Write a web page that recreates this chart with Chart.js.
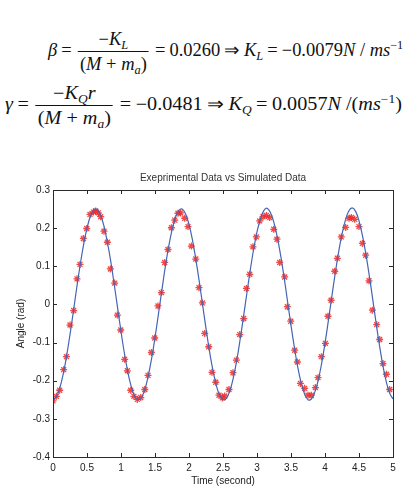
<!DOCTYPE html>
<html>
<head>
<meta charset="utf-8">
<script src="https://cdn.jsdelivr.net/npm/chart.js@4.4.1/dist/chart.umd.min.js"></script>
<style>
  html, body { margin: 0; padding: 0; background: #fff; }
  body { width: 405px; height: 487px; position: relative; overflow: hidden; }
  .eq { position: absolute; white-space: nowrap; font-family: "Liberation Serif", "Times New Roman", serif;
        font-size: 18px; line-height: 1; color: #111; transform-origin: 0 50%; }
  .eq i { font-style: italic; }
  .eq sub { font-size: 12px; vertical-align: -4px; line-height: 0; }
  .eq sup { font-size: 12px; vertical-align: 7px; line-height: 0; }
  .op { margin: 0 4px; }
  .frac { display: inline-block; vertical-align: middle; text-align: center; margin: 0 2px; }
  .frac > span { display: block; }
  .frac .num { padding: 0 2px 3px; border-bottom: 1px solid #111; }
  .frac .den { padding: 3px 2px 0; }
  #chart { position: absolute; left: 0; top: 160px; }
</style>
</head>
<body>
<div class="eq" id="eq1" data-left="48" data-width="355" style="top:30px">
  <i>β</i><span class="op">=</span><span class="frac"><span class="num">−<i>K</i><sub><i>L</i></sub></span><span class="den">(<i>M</i> + <i>m</i><sub><i>a</i></sub>)</span></span><span class="op">=</span>0.0260<span class="op">⇒</span><i>K</i><sub><i>L</i></sub><span class="op">=</span>−0.0079<i>N</i>&nbsp;/&nbsp;<i>ms</i><sup>−1</sup>
</div>
<div class="eq" id="eq2" data-left="5" data-width="397" style="top:84px">
  <i>γ</i><span class="op">=</span><span class="frac"><span class="num">−<i>K</i><sub><i>Q</i></sub><i>r</i></span><span class="den">(<i>M</i> + <i>m</i><sub><i>a</i></sub>)</span></span><span class="op">=</span>−0.0481<span class="op">⇒</span><i>K</i><sub><i>Q</i></sub><span class="op">=</span>0.0057<i>N</i>&nbsp;/(<i>ms</i><sup>−1</sup>)
</div>
<canvas id="chart" width="405" height="327"></canvas>
<script>
const plotTitle = 'Exeprimental Data vs Simulated Data';
const xTitle = 'Time (second)';
const yTitle = 'Angle (rad)';

// simulated curve, read every 0.05 s
const simStep = 0.05;
const simAngle = [
  -0.250, -0.242, -0.219, -0.183, -0.135, -0.079, -0.018, 0.045, 0.104, 0.157,
  0.200, 0.231, 0.248, 0.249, 0.234, 0.205, 0.163, 0.112, 0.053, -0.009,
  -0.071, -0.128, -0.177, -0.215, -0.240, -0.250, -0.244, -0.223, -0.188, -0.142,
  -0.087, -0.026, 0.036, 0.097, 0.151, 0.195, 0.228, 0.246, 0.250, 0.237,
  0.210, 0.170, 0.119, 0.061, -0.001, -0.063, -0.121, -0.171, -0.211, -0.238,
  -0.250, -0.246, -0.227, -0.194, -0.149, -0.094, -0.034, 0.028, 0.089, 0.144,
  0.190, 0.224, 0.246, 0.252, 0.240, 0.214, 0.175, 0.126, 0.069, 0.007,
  -0.055, -0.113, -0.165, -0.206, -0.235, -0.250, -0.248, -0.230, -0.199, -0.155,
  -0.102, -0.042, 0.020, 0.081, 0.137, 0.184, 0.221, 0.245, 0.253, 0.244,
  0.219, 0.181, 0.133, 0.077, 0.016, -0.047, -0.106, -0.159, -0.202, -0.232,
  -0.248
];

// measured points
const expTime = [
  0.000, 0.050, 0.098, 0.157, 0.197, 0.250, 0.304, 0.353, 0.397, 0.447,
  0.496, 0.544, 0.594, 0.628, 0.667, 0.701, 0.750, 0.800, 0.844, 0.907,
  0.947, 0.996, 1.054, 1.094, 1.143, 1.190, 1.240, 1.290, 1.350, 1.397,
  1.447, 1.496, 1.544, 1.594, 1.643, 1.691, 1.741, 1.790, 1.838, 1.878,
  1.937, 1.985, 2.035, 2.099, 2.147, 2.197, 2.231, 2.290, 2.338, 2.393,
  2.441, 2.490, 2.525, 2.588, 2.647, 2.697, 2.746, 2.804, 2.844, 2.893,
  2.941, 2.990, 3.040, 3.088, 3.138, 3.187, 3.246, 3.294, 3.334, 3.407,
  3.447, 3.496, 3.554, 3.594, 3.638, 3.701, 3.750, 3.800, 3.859, 3.897,
  3.947, 4.006, 4.044, 4.090, 4.143, 4.182, 4.240, 4.304, 4.353, 4.388,
  4.437, 4.500, 4.550, 4.598, 4.647, 4.697, 4.760, 4.804, 4.853, 4.903,
  4.951
];
const expAngle = [
  -0.253, -0.241, -0.225, -0.171, -0.137, -0.054, -0.016, 0.067, 0.105, 0.173,
  0.199, 0.236, 0.242, 0.245, 0.240, 0.230, 0.192, 0.163, 0.093, 0.056,
  -0.028, -0.067, -0.144, -0.174, -0.225, -0.241, -0.249, -0.244, -0.223, -0.186,
  -0.126, -0.088, -0.004, 0.031, 0.110, 0.144, 0.201, 0.221, 0.239, 0.240,
  0.226, 0.204, 0.153, 0.119, 0.044, 0.004, -0.076, -0.111, -0.178, -0.204,
  -0.238, -0.245, -0.240, -0.223, -0.179, -0.146, -0.079, -0.037, 0.042, 0.079,
  0.151, 0.177, 0.219, 0.230, 0.233, 0.228, 0.197, 0.171, 0.110, 0.072,
  -0.006, -0.044, -0.120, -0.151, -0.207, -0.220, -0.238, -0.238, -0.218, -0.192,
  -0.137, -0.102, -0.031, 0.011, 0.087, 0.121, 0.177, 0.202, 0.226, 0.228,
  0.223, 0.204, 0.160, 0.129, 0.062, -0.015, -0.053, -0.092, -0.155, -0.183,
  -0.223
];

// squeeze the equation lines to the width they take in the picture
document.querySelectorAll('.eq').forEach(function (el) {
  el.style.left = el.dataset.left + 'px';
  const w = el.scrollWidth;
  el.style.transform = 'scaleX(' + (el.dataset.width / w) + ')';
});

const fontFamily = '"Liberation Sans", Arial, Helvetica, sans-serif';

// MATLAB style box with ticks pointing inwards
const boxPlugin = {
  id: 'boxPlugin',
  afterDraw(chart) {
    const ctx = chart.ctx;
    const a = chart.chartArea;
    const xs = chart.scales.x, ys = chart.scales.y;
    const len = 4;
    ctx.save();
    ctx.strokeStyle = '#2a2a2a';
    ctx.lineWidth = 1;
    ctx.strokeRect(a.left + 0.5, a.top + 0.5, a.right - a.left, a.bottom - a.top);
    ctx.beginPath();
    xs.ticks.forEach(function (t) {
      const px = Math.round(xs.getPixelForValue(t.value)) + 0.5;
      ctx.moveTo(px, a.bottom); ctx.lineTo(px, a.bottom - len);
      ctx.moveTo(px, a.top); ctx.lineTo(px, a.top + len);
    });
    ys.ticks.forEach(function (t) {
      const py = Math.round(ys.getPixelForValue(t.value)) + 0.5;
      ctx.moveTo(a.left, py); ctx.lineTo(a.left + len, py);
      ctx.moveTo(a.right, py); ctx.lineTo(a.right - len, py);
    });
    ctx.stroke();
    ctx.restore();
  }
};

const tickFont = { family: fontFamily, size: 10 };

new Chart(document.getElementById('chart'), {
  type: 'scatter',
  data: {
    datasets: [
      {
        type: 'line',
        label: 'Simulated',
        data: simAngle.map(function (v, i) { return {x: i * simStep, y: v}; }),
        borderColor: '#4565b2',
        borderWidth: 1.2,
        pointRadius: 0,
        tension: 0.4,
        fill: false
      },
      {
        label: 'Experimental',
        data: expTime.map(function (t, i) { return {x: t, y: expAngle[i]}; }),
        pointStyle: 'star',
        pointRadius: 3.5,
        borderColor: 'rgba(238, 40, 40, 0.85)',
        backgroundColor: 'rgba(238, 40, 40, 0.85)',
        borderWidth: 1.3
      }
    ]
  },
  options: {
    responsive: false,
    animation: false,
    devicePixelRatio: 1,
    layout: { padding: { left: 0, right: 12, top: 0, bottom: 0 } },
    plugins: {
      legend: { display: false },
      tooltip: { enabled: false },
      title: { display: false }
    },
    scales: {
      x: {
        type: 'linear',
        min: 0, max: 5,
        grid: { display: false, drawTicks: false },
        border: { display: false },
        ticks: {
          stepSize: 0.5,
          padding: 5,
          color: '#222',
          font: tickFont,
          maxRotation: 0,
          callback: function (v) { return String(Math.round(v * 10) / 10); }
        },
        title: {
          display: true, text: xTitle, color: '#222',
          font: tickFont,
          padding: { top: 1, bottom: 0 }
        },
        afterFit: function (s) { s.height = 30; }
      },
      // top axis only carries the plot title, centred over the plot box
      top: {
        type: 'linear',
        position: 'top',
        min: 0, max: 5,
        grid: { display: false, drawTicks: false },
        border: { display: false },
        ticks: { display: false },
        title: {
          display: true, text: plotTitle, color: '#333',
          font: tickFont,
          padding: { top: 12, bottom: 0 }
        },
        afterFit: function (s) { s.height = 30; }
      },
      y: {
        min: -0.4, max: 0.3,
        grid: { display: false, drawTicks: false },
        border: { display: false },
        ticks: {
          stepSize: 0.1,
          padding: 3,
          color: '#222',
          font: tickFont,
          callback: function (v) { return String(Math.round(v * 10) / 10); }
        },
        title: {
          display: true, text: yTitle, color: '#222',
          font: tickFont,
          padding: { top: 15, bottom: 0 }
        },
        afterFit: function (s) { s.width = 53; }
      }
    }
  },
  plugins: [boxPlugin]
});
</script>
</body>
</html>
